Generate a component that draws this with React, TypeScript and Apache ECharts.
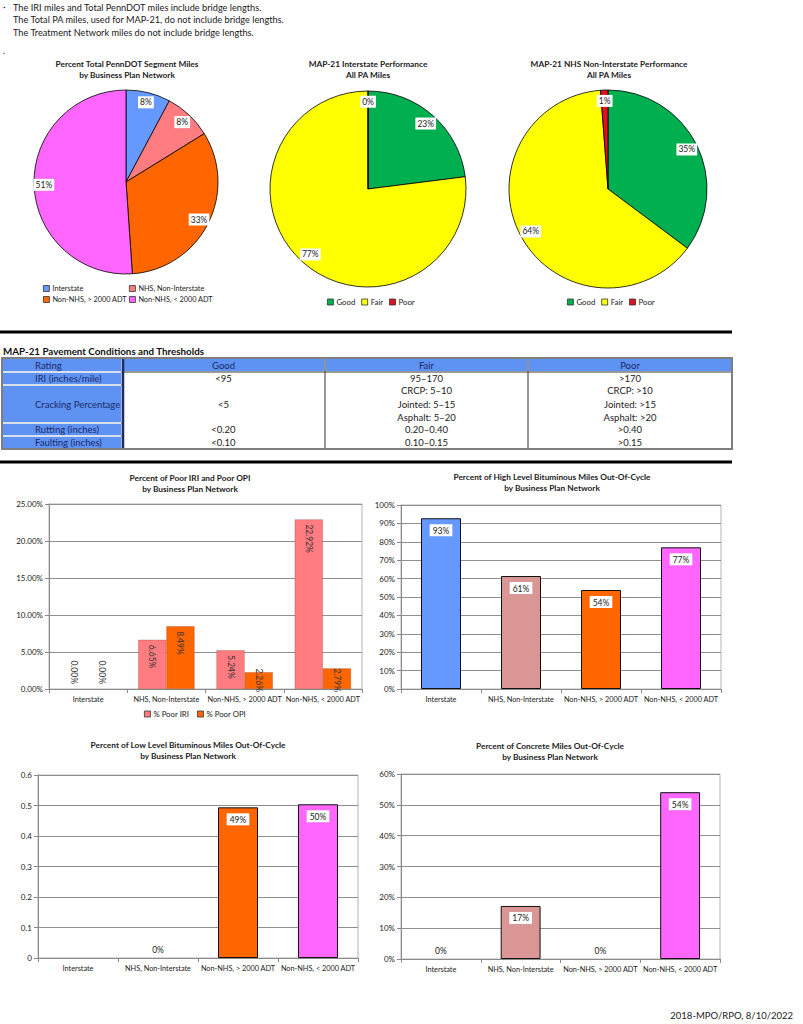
import React, { useEffect, useRef } from 'react';
import * as echarts from 'echarts';

const FONT = 'Lato, "Open Sans", "DejaVu Sans", sans-serif';

// ---------- DATA ----------
const noteLines = [
  'The IRI miles and Total PennDOT miles include bridge lengths.',
  'The Total PA miles, used for MAP-21, do not include bridge lengths.',
  'The Treatment Network miles do not include bridge lengths.',
];
const footerText = '2018-MPO/RPO, 8/10/2022';

const networks = ['Interstate', 'NHS, Non-Interstate', 'Non-NHS, > 2000 ADT', 'Non-NHS, < 2000 ADT'];
const networkColors = ['#6699FF', '#FF7C80', '#FF6600', '#FF66FF'];
const segmentMilesPct = [7.8, 8.4, 32.7, 51.1];

const conditions = ['Good', 'Fair', 'Poor'];
const conditionColors = ['#00B050', '#FFFF00', '#E01020'];
const interstatePerfPct = [23.0, 77.0, 0.0];
const nhsNonInterstatePerfPct = [35.2, 63.6, 1.2];

const poorSeriesNames = ['% Poor IRI', '% Poor OPI'];
const poorSeriesColors = ['#FF7C80', '#FF6600'];
const poorIriPct = [0, 6.65, 5.24, 22.92];
const poorOpiPct = [0, 8.49, 2.26, 2.79];

const outOfCycleColors = ['#6699FF', '#D99694', '#FF6600', '#FF66FF'];
const highLevelPct = [92.8, 61.4, 53.8, 77.0];
const lowLevelShare: (number | null)[] = [null, 0, 0.494, 0.504];
const concretePct = [0, 17.2, 0, 54.1];

const chartTitles = [
  ['Percent Total PennDOT Segment Miles', 'by Business Plan Network'],
  ['MAP-21 Interstate Performance', 'All PA Miles'],
  ['MAP-21 NHS Non-Interstate Performance', 'All PA Miles'],
  ['Percent of Poor IRI and Poor OPI', 'by Business Plan Network'],
  ['Percent of High Level Bituminous Miles Out-Of-Cycle', 'by Business Plan Network'],
  ['Percent of Low Level Bituminous Miles Out-Of-Cycle', 'by Business Plan Network'],
  ['Percent of Concrete Miles Out-Of-Cycle', 'by Business Plan Network'],
];

const tableTitle = 'MAP-21 Pavement Conditions and Thresholds';
const tableHeader = ['Rating', 'Good', 'Fair', 'Poor'];
const tableRows = [
  ['IRI (inches/mile)', '<95', '95–170', '>170'],
  ['Cracking Percentage', '<5', 'CRCP: 5–10\nJointed: 5–15\nAsphalt: 5–20', 'CRCP: >10\nJointed: >15\nAsphalt: >20'],
  ['Rutting (inches)', '<0.20', '0.20–0.40', '>0.40'],
  ['Faulting (inches)', '<0.10', '0.10–0.15', '>0.15'],
];

// ---------- HELPERS ----------
const txt = (text: string, x: number, y: number, o: any = {}) => ({
  type: 'text',
  silent: true,
  style: {
    text,
    x,
    y,
    fill: o.fill || '#1a1a1a',
    fontSize: o.size || 9,
    fontFamily: FONT,
    fontWeight: o.bold ? 'bold' : 'normal',
    align: o.align || 'left',
    textAlign: o.align || 'left',
    verticalAlign: 'middle',
    textVerticalAlign: 'middle',
    lineHeight: o.lh || undefined,
  },
});

const rect = (x: number, y: number, w: number, h: number, style: any) => ({
  type: 'rect',
  silent: true,
  shape: { x, y, width: w, height: h },
  style,
});

const line = (x1: number, y1: number, x2: number, y2: number, stroke: string, lineWidth: number) => ({
  type: 'line',
  silent: true,
  shape: { x1, y1, x2, y2 },
  style: { stroke, lineWidth },
});

function pieSeries(names: string[], values: number[], colors: string[], center: number[], r: number) {
  return [
    {
      type: 'pie',
      center,
      radius: [0, r],
      startAngle: 90,
      clockwise: true,
      silent: true,
      data: names.map((n, i) => ({ name: n, value: values[i], itemStyle: { color: colors[i] } })),
      itemStyle: { borderColor: '#000', borderWidth: 0.8 },
      label: { show: false },
      labelLine: { show: false },
    },
    {
      type: 'pie',
      center,
      radius: [r * 0.72, r],
      startAngle: 90,
      clockwise: true,
      silent: true,
      avoidLabelOverlap: false,
      data: names.map((n, i) => ({ name: n, value: values[i] })),
      itemStyle: { color: 'rgba(0,0,0,0)', borderWidth: 0 },
      label: {
        show: true,
        position: 'inside',
        formatter: (p: any) => Math.round(p.value) + '%',
        backgroundColor: '#fff',
        padding: [2, 2, 1, 2],
        color: '#222',
        fontSize: 8.5,
        fontFamily: FONT,
      },
      labelLine: { show: false },
    },
  ];
}

const gridBase = { show: true, borderColor: '#b4b4b4', borderWidth: 1, backgroundColor: 'transparent' };

function xAxisFor(gridIndex: number) {
  return {
    type: 'category',
    gridIndex,
    data: networks,
    axisLine: { lineStyle: { color: '#8a8a8a' } },
    axisTick: { show: true, alignWithLabel: false, length: 4, lineStyle: { color: '#8a8a8a' } },
    axisLabel: { interval: 0, fontSize: 7.3, color: '#222', margin: 7, fontFamily: FONT },
  };
}

function yAxisFor(gridIndex: number, max: number, interval: number, fmt: (v: number) => string) {
  return {
    type: 'value',
    gridIndex,
    min: 0,
    max,
    interval,
    axisLine: { show: true, lineStyle: { color: '#8a8a8a' } },
    axisTick: { show: true, length: 4, lineStyle: { color: '#8a8a8a' } },
    splitLine: { lineStyle: { color: '#8f8f8f', width: 1 } },
    axisLabel: { fontSize: 8, color: '#222', margin: 6, formatter: fmt, fontFamily: FONT },
  };
}

const boxLabel = {
  show: true,
  position: 'insideTop',
  distance: 6,
  backgroundColor: '#fff',
  padding: [2, 3, 1, 3],
  color: '#222',
  fontSize: 8.5,
  fontFamily: FONT,
};

export default function App() {
  const ref = useRef<HTMLDivElement>(null);

  useEffect(() => {
    if (!ref.current) return;
    const chart = echarts.init(ref.current, undefined, { renderer: 'svg' });

    // ---- graphics: notes, titles, rules, table, footer ----
    const g: any[] = [];
    g.push(txt('·', 3, 6, { size: 10 }));
    noteLines.forEach((t, i) => g.push(txt(t, 13, 7 + i * 12.7, { size: 9.2 })));
    g.push(txt('.', 3, 50, { size: 9 }));

    const titlePos = [
      [127, 64],
      [368, 64],
      [609, 64],
      [190, 478],
      [552, 477],
      [188, 745],
      [550, 746],
    ];
    chartTitles.forEach((lines, i) => {
      lines.forEach((t, j) =>
        g.push(txt(t, titlePos[i][0], titlePos[i][1] + j * 11, { size: 8.3, bold: true, align: 'center', fill: '#222' }))
      );
    });

    g.push(line(0, 332, 732, 332, '#000', 3));
    g.push(line(0, 462, 732, 462, '#000', 3));

    // table
    const colX = [2, 122, 325, 528, 732];
    const rowY = [358, 372, 385, 423, 436, 449];
    const BLUE = '#5E92F3';
    const NAVY = '#1c2a66';
    g.push(rect(2, 358, 730, 91, { fill: '#fff' }));
    g.push(rect(2, 358, 120, 91, { fill: NAVY }));
    for (let c = 0; c < 4; c++) {
      g.push(rect(colX[c] + 0.5, rowY[0] + 0.5, colX[c + 1] - colX[c] - 1, rowY[1] - rowY[0] - 1, { fill: BLUE, stroke: '#fff', lineWidth: 0.8 }));
    }
    for (let r = 0; r < tableRows.length; r++) {
      g.push(rect(colX[0] + 0.5, rowY[r + 1] + 0.5, colX[1] - colX[0] - 1, rowY[r + 2] - rowY[r + 1] - 1, { fill: BLUE, stroke: '#fff', lineWidth: 0.8 }));
    }
    g.push(line(122, 372, 732, 372, '#3a3a3a', 1));
    g.push(line(123, 358, 123, 449, NAVY, 2.5));
    g.push(line(325, 358, 325, 449, '#333', 1));
    g.push(line(528, 358, 528, 449, '#333', 1));
    g.push(rect(2, 358, 730, 91, { fill: 'none', stroke: '#7f7f7f', lineWidth: 2 }));

    g.push(txt(tableTitle, 3, 351, { size: 9.8, bold: true, fill: '#111' }));
    const hdrY = (rowY[0] + rowY[1]) / 2;
    g.push(txt(tableHeader[0], 35, hdrY, { size: 9.5, fill: NAVY }));
    for (let c = 1; c < 4; c++) {
      g.push(txt(tableHeader[c], (colX[c] + colX[c + 1]) / 2, hdrY, { size: 9.5, fill: NAVY, align: 'center' }));
    }
    tableRows.forEach((row, r) => {
      const cy = (rowY[r + 1] + rowY[r + 2]) / 2;
      g.push(txt(row[0], 35, cy, { size: 9.5, fill: NAVY }));
      for (let c = 1; c < 4; c++) {
        g.push(txt(row[c], (colX[c] + colX[c + 1]) / 2, cy, { size: 9.5, fill: '#222', align: 'center', lh: 13.5 }));
      }
    });

    g.push(txt(footerText, 793, 1015, { size: 9.5, align: 'right', fill: '#222' }));

    const legendCommon = {
      icon: 'rect',
      itemWidth: 6,
      itemHeight: 6,
      itemStyle: { borderColor: '#333', borderWidth: 0.8 },
      textStyle: { fontSize: 7.8, color: '#222', fontFamily: FONT, padding: [0, 0, 0, -2] },
      selectedMode: false,
      padding: 0,
    };
    const pieLegendText = { fontSize: 7.3, color: '#222', fontFamily: FONT, padding: [0, 0, 0, -2] };

    const poorData = (vals: number[]) =>
      vals.map((v) =>
        v === 0
          ? { value: v, itemStyle: { borderWidth: 0 }, label: { position: 'insideBottom', align: 'right' } }
          : v < 4
          ? { value: v, label: { position: 'insideBottom', align: 'right', distance: -3 } }
          : { value: v }
      );

    const outData = (vals: (number | null)[]) =>
      vals.map((v, i) =>
        v === null
          ? null
          : {
              value: v,
              itemStyle: v === 0 ? { color: outOfCycleColors[i], borderWidth: 0 } : { color: outOfCycleColors[i] },
              label: v === 0 ? { position: 'top', distance: 3, backgroundColor: 'transparent' } : {},
            }
      );

    const option: any = {
      animation: false,
      textStyle: { fontFamily: FONT },
      graphic: { elements: g },
      legend: [
        { ...legendCommon, textStyle: pieLegendText, data: [networks[0], networks[2]], orient: 'vertical', left: 43, top: 285, itemGap: 4 },
        { ...legendCommon, textStyle: pieLegendText, data: [networks[1], networks[3]], orient: 'vertical', left: 129, top: 285, itemGap: 4 },
        { ...legendCommon, data: conditions, left: 327, top: 298, itemGap: 6 },
        { ...legendCommon, data: conditions, left: 567, top: 298, itemGap: 6 },
        { ...legendCommon, data: poorSeriesNames, left: 144, top: 710, itemGap: 8 },
      ],
      grid: [
        { ...gridBase, left: 49, top: 504, width: 313, height: 185 },
        { ...gridBase, left: 401, top: 505, width: 320, height: 184 },
        { ...gridBase, left: 38, top: 775, width: 320, height: 183 },
        { ...gridBase, left: 401, top: 774, width: 319, height: 185 },
      ],
      xAxis: [xAxisFor(0), xAxisFor(1), xAxisFor(2), xAxisFor(3)],
      yAxis: [
        yAxisFor(0, 25, 5, (v) => v.toFixed(2) + '%'),
        yAxisFor(1, 100, 10, (v) => v + '%'),
        yAxisFor(2, 0.6, 0.1, (v) => (v === 0 ? '0' : v.toFixed(1))),
        yAxisFor(3, 60, 10, (v) => v + '%'),
      ],
      series: [
        ...pieSeries(networks, segmentMilesPct, networkColors, [126, 182], 92),
        ...pieSeries(conditions, interstatePerfPct, conditionColors, [368, 189], 98),
        ...pieSeries(conditions, nhsNonInterstatePerfPct, conditionColors, [608, 189], 99),
        ...[poorIriPct, poorOpiPct].map((vals, k) => ({
          type: 'bar',
          name: poorSeriesNames[k],
          xAxisIndex: 0,
          yAxisIndex: 0,
          data: poorData(vals),
          barGap: '0%',
          barCategoryGap: '28%',
          silent: true,
          itemStyle: { color: poorSeriesColors[k], borderColor: 'rgba(120,40,20,0.5)', borderWidth: 0.5 },
          label: {
            show: true,
            position: 'insideTop',
            rotate: -90,
            align: 'left',
            verticalAlign: 'middle',
            distance: 5,
            fontSize: 8.5,
            color: '#333',
            fontFamily: FONT,
            formatter: (p: any) => p.value.toFixed(2) + '%',
          },
        })),
        {
          type: 'bar',
          name: 'High Level Bituminous Out-Of-Cycle',
          xAxisIndex: 1,
          yAxisIndex: 1,
          barWidth: '50%',
          silent: true,
          data: outData(highLevelPct),
          itemStyle: { borderColor: '#111', borderWidth: 1 },
          label: { ...boxLabel, formatter: (p: any) => Math.round(p.value) + '%' },
        },
        {
          type: 'bar',
          name: 'Low Level Bituminous Out-Of-Cycle',
          xAxisIndex: 2,
          yAxisIndex: 2,
          barWidth: '50%',
          silent: true,
          data: outData(lowLevelShare),
          itemStyle: { borderColor: '#111', borderWidth: 1 },
          label: { ...boxLabel, formatter: (p: any) => Math.round(p.value * 100) + '%' },
        },
        {
          type: 'bar',
          name: 'Concrete Out-Of-Cycle',
          xAxisIndex: 3,
          yAxisIndex: 3,
          barWidth: '50%',
          silent: true,
          data: outData(concretePct),
          itemStyle: { borderColor: '#111', borderWidth: 1 },
          label: { ...boxLabel, formatter: (p: any) => Math.round(p.value) + '%' },
        },
      ],
    };

    chart.setOption(option);
    return () => chart.dispose();
  }, []);

  return (
    <div
      ref={ref}
      style={{ position: 'absolute', left: 0, top: 0, width: 803, height: 1024, background: '#fff' }}
    />
  );
}
